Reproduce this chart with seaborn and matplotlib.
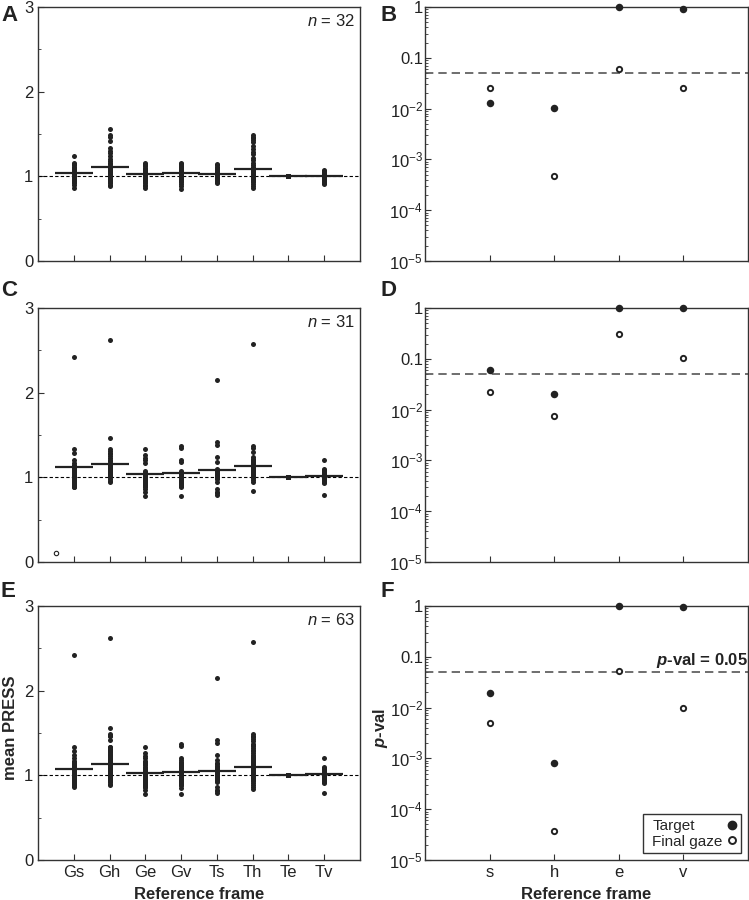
import pandas as pd
import matplotlib.pyplot as plt
import seaborn as sns
from matplotlib.lines import Line2D
from matplotlib.ticker import MultipleLocator, FixedLocator, LogLocator, NullFormatter

sns.set_style('ticks')
plt.rcParams['font.family'] = ['Liberation Sans', 'DejaVu Sans']
plt.rcParams['mathtext.fontset'] = 'custom'
plt.rcParams['mathtext.rm'] = 'Liberation Sans'
plt.rcParams['mathtext.it'] = 'Liberation Sans:italic'
plt.rcParams['mathtext.bf'] = 'Liberation Sans:bold:italic'
plt.rcParams['xtick.direction'] = 'in'
plt.rcParams['ytick.direction'] = 'in'

# ---- mean PRESS par neurone, panneaux A / C (E = A + C) ----
frames = ['Gs', 'Gh', 'Ge', 'Gv', 'Ts', 'Th', 'Te', 'Tv']

press_a = {
    'Gs': [1.24, 1.16, 1.14, 1.13, 1.11, 1.10, 1.09, 1.08, 1.07, 1.06, 1.05, 1.05, 1.04, 1.04, 1.03, 1.03,
           1.02, 1.02, 1.01, 1.01, 1.00, 1.00, 0.99, 0.99, 0.98, 0.97, 0.96, 0.95, 0.93, 0.92, 0.90, 0.86],
    'Gh': [1.56, 1.49, 1.46, 1.42, 1.33, 1.30, 1.27, 1.24, 1.21, 1.18, 1.16, 1.14, 1.12, 1.10, 1.09, 1.07,
           1.06, 1.05, 1.04, 1.03, 1.02, 1.01, 1.00, 0.99, 0.98, 0.97, 0.96, 0.95, 0.93, 0.92, 0.90, 0.88],
    'Ge': [1.16, 1.15, 1.13, 1.12, 1.10, 1.09, 1.08, 1.07, 1.06, 1.05, 1.04, 1.04, 1.03, 1.03, 1.02, 1.02,
           1.01, 1.01, 1.00, 1.00, 0.99, 0.99, 0.98, 0.98, 0.97, 0.96, 0.95, 0.94, 0.92, 0.90, 0.88, 0.86],
    'Gv': [1.16, 1.15, 1.14, 1.12, 1.11, 1.10, 1.09, 1.08, 1.07, 1.06, 1.05, 1.05, 1.04, 1.04, 1.03, 1.03,
           1.02, 1.02, 1.01, 1.01, 1.00, 1.00, 0.99, 0.98, 0.97, 0.96, 0.95, 0.94, 0.93, 0.91, 0.89, 0.85],
    'Ts': [1.14, 1.13, 1.11, 1.10, 1.09, 1.08, 1.07, 1.06, 1.05, 1.05, 1.04, 1.04, 1.03, 1.03, 1.02, 1.02,
           1.02, 1.01, 1.01, 1.00, 1.00, 1.00, 0.99, 0.99, 0.98, 0.98, 0.97, 0.96, 0.95, 0.94, 0.93, 0.92],
    'Th': [1.49, 1.47, 1.45, 1.43, 1.40, 1.36, 1.32, 1.29, 1.26, 1.22, 1.19, 1.16, 1.13, 1.11, 1.09, 1.07,
           1.06, 1.05, 1.04, 1.03, 1.02, 1.01, 1.00, 0.99, 0.98, 0.97, 0.96, 0.94, 0.93, 0.91, 0.89, 0.86],
    'Te': [1.00, 1.00, 1.00, 1.00, 1.00, 1.00, 1.00, 1.00, 1.00, 1.00, 1.00, 1.00, 1.00, 1.00, 1.00, 1.00,
           1.00, 1.00, 1.00, 1.00, 1.00, 1.00, 1.00, 1.00, 1.00, 1.00, 1.00, 1.00, 1.00, 1.00, 1.00, 1.00],
    'Tv': [1.07, 1.06, 1.05, 1.05, 1.04, 1.03, 1.03, 1.02, 1.02, 1.01, 1.01, 1.01, 1.00, 1.00, 1.00, 1.00,
           1.00, 0.99, 0.99, 0.99, 0.98, 0.98, 0.98, 0.97, 0.97, 0.96, 0.96, 0.95, 0.94, 0.93, 0.92, 0.91],
}
press_c = {
    'Gs': [2.42, 1.34, 1.29, 1.20, 1.17, 1.14, 1.12, 1.11, 1.10, 1.09, 1.08, 1.07, 1.06, 1.05, 1.04, 1.03,
           1.02, 1.01, 1.00, 0.99, 0.98, 0.97, 0.96, 0.95, 0.94, 0.93, 0.92, 0.91, 0.90, 0.89, 0.88],
    'Gh': [2.62, 1.47, 1.33, 1.31, 1.29, 1.27, 1.25, 1.23, 1.21, 1.19, 1.17, 1.16, 1.15, 1.14, 1.13, 1.12,
           1.11, 1.10, 1.09, 1.08, 1.07, 1.06, 1.05, 1.04, 1.03, 1.02, 1.01, 1.00, 0.98, 0.96, 0.95],
    'Ge': [1.34, 1.26, 1.23, 1.20, 1.17, 1.07, 1.06, 1.05, 1.04, 1.03, 1.02, 1.02, 1.01, 1.01, 1.00, 1.00,
           0.99, 0.99, 0.98, 0.97, 0.96, 0.95, 0.94, 0.93, 0.92, 0.91, 0.90, 0.88, 0.86, 0.83, 0.78],
    'Gv': [1.37, 1.35, 1.20, 1.18, 1.07, 1.06, 1.05, 1.05, 1.04, 1.04, 1.03, 1.03, 1.02, 1.02, 1.01, 1.01,
           1.00, 1.00, 0.99, 0.99, 0.98, 0.97, 0.96, 0.95, 0.94, 0.93, 0.92, 0.91, 0.90, 0.89, 0.78],
    'Ts': [2.15, 1.42, 1.38, 1.24, 1.18, 1.10, 1.09, 1.08, 1.07, 1.07, 1.06, 1.06, 1.05, 1.05, 1.04, 1.04,
           1.03, 1.03, 1.02, 1.02, 1.01, 1.01, 1.00, 1.00, 0.99, 0.98, 0.95, 0.86, 0.83, 0.81, 0.79],
    'Th': [2.57, 1.37, 1.35, 1.30, 1.24, 1.22, 1.20, 1.19, 1.18, 1.17, 1.16, 1.15, 1.14, 1.13, 1.12, 1.11,
           1.10, 1.09, 1.08, 1.07, 1.06, 1.05, 1.04, 1.03, 1.02, 1.01, 1.00, 0.99, 0.97, 0.95, 0.84],
    'Te': [1.00, 1.00, 1.00, 1.00, 1.00, 1.00, 1.00, 1.00, 1.00, 1.00, 1.00, 1.00, 1.00, 1.00, 1.00, 1.00,
           1.00, 1.00, 1.00, 1.00, 1.00, 1.00, 1.00, 1.00, 1.00, 1.00, 1.00, 1.00, 1.00, 1.00, 1.00],
    'Tv': [1.21, 1.10, 1.09, 1.08, 1.07, 1.06, 1.05, 1.04, 1.04, 1.03, 1.03, 1.02, 1.02, 1.01, 1.01, 1.00,
           1.00, 1.00, 0.99, 0.99, 0.99, 0.98, 0.98, 0.97, 0.97, 0.96, 0.96, 0.95, 0.94, 0.93, 0.79],
}
press_e = {f: press_a[f] + press_c[f] for f in frames}

means_a = [1.035, 1.113, 1.022, 1.035, 1.022, 1.084, 1.003, 1.003]
means_c = [1.117, 1.157, 1.035, 1.054, 1.086, 1.137, 1.000, 1.015]
means_e = [1.078, 1.135, 1.023, 1.035, 1.055, 1.102, 1.000, 1.010]

# point ouvert isolé dans C
c_extra_pos = -0.5
c_extra_val = 0.11

# ---- p-values, panneaux B / D / F ----
frames_short = ['s', 'h', 'e', 'v']
p_target_b = [0.0127, 0.0104, 1.0, 0.91]
p_final_b = [0.0258, 4.7e-4, 0.060, 0.025]
p_target_d = [0.061, 0.0199, 1.0, 1.0]
p_final_d = [0.0224, 0.0075, 0.307, 0.105]
p_target_f = [0.019, 8.3e-4, 1.0, 0.95]
p_final_f = [0.005, 3.8e-5, 0.052, 0.010]
p_threshold = 0.05

INK = '#222222'


def to_long(values):
    rows = [(f, v) for f in frames for v in values[f]]
    return pd.DataFrame(rows, columns=['frame', 'value'])


def style_spines(ax):
    for s in ax.spines.values():
        s.set_color('#333333')
        s.set_linewidth(1.0)
    ax.tick_params(which='both', colors='#333333', labelcolor=INK, labelsize=12)
    ax.tick_params(which='major', length=4, width=0.8)
    ax.tick_params(which='minor', length=2.5, width=0.6)
    ax.tick_params(axis='x', which='minor', bottom=False)


def draw_press(ax, values, means, n, bottom):
    ax.axhline(1, color='black', lw=0.8, ls=(0, (3, 2)), zorder=1)
    sns.stripplot(data=to_long(values), x='frame', y='value', order=frames, jitter=False,
                  color=INK, size=3.6, linewidth=0, ax=ax, zorder=3)
    for i, m in enumerate(means):
        ax.hlines(m, i - 0.53, i + 0.53, color=INK, lw=1.6, zorder=4)
    ax.set_xlim(-1, len(frames))
    ax.set_ylim(0, 3)
    ax.yaxis.set_major_locator(MultipleLocator(1))
    ax.yaxis.set_minor_locator(MultipleLocator(0.5))
    ax.text(0.985, 0.975, f'$\\mathit{{n}}$ = {n}', transform=ax.transAxes,
            ha='right', va='top', fontsize=12, color=INK)
    style_spines(ax)
    if bottom:
        ax.set_xlabel('Reference frame', fontsize=12, fontweight='bold', labelpad=5)
        ax.set_ylabel('mean PRESS', fontsize=12, fontweight='bold')
        ax.yaxis.set_label_coords(-0.062, 0.52)
    else:
        ax.set_xticklabels([])
        ax.set_xlabel('')
        ax.set_ylabel('')


def draw_pval(ax, target, final, bottom):
    ax.axhline(p_threshold, color='#555555', lw=1.2, ls=(0, (5, 3)), zorder=1)
    df_t = pd.DataFrame({'frame': frames_short, 'p': target})
    df_f = pd.DataFrame({'frame': frames_short, 'p': final})
    sns.stripplot(data=df_t, x='frame', y='p', order=frames_short, jitter=False,
                  color=INK, size=5.4, linewidth=0, ax=ax, zorder=3)
    sns.stripplot(data=df_f, x='frame', y='p', order=frames_short, jitter=False,
                  color='white', edgecolor=INK, linewidth=1.4, size=3.8, ax=ax, zorder=3)
    for c in ax.collections:
        c.set_clip_on(False)
    ax.set_yscale('log')
    ax.set_ylim(1e-5, 1)
    ax.set_xlim(-1, len(frames_short))
    ax.yaxis.set_major_locator(FixedLocator([1e-5, 1e-4, 1e-3, 1e-2, 0.1, 1]))
    ax.set_yticklabels(['$10^{-5}$', '$10^{-4}$', '$10^{-3}$', '$10^{-2}$', '0.1', '1'])
    ax.yaxis.set_minor_locator(LogLocator(base=10, subs=range(2, 10)))
    ax.yaxis.set_minor_formatter(NullFormatter())
    style_spines(ax)
    ax.tick_params(axis='y', which='major', pad=1.5)
    if bottom:
        ax.set_xlabel('Reference frame', fontsize=12, fontweight='bold', labelpad=5)
        ax.set_ylabel('$\\mathbf{p}$-val', fontsize=12, fontweight='bold')
        ax.yaxis.set_label_coords(-0.107, 0.52)
        ax.text(1.0, p_threshold * 1.12, '$\\mathbf{p}$-val = 0.05', transform=ax.get_yaxis_transform(),
                ha='right', va='bottom', fontsize=12, fontweight='bold', color=INK)
        blank = Line2D([], [], ls='none', marker='')
        handles = [
            blank, blank,
            Line2D([], [], ls='none', marker='o', color=INK, markersize=6),
            Line2D([], [], ls='none', marker='o', mfc='white', mec=INK, mew=1.4, markersize=5),
        ]
        leg = ax.legend(handles, ['Target', 'Final gaze', '', ''], ncols=2, loc='lower right',
                        fontsize=11, frameon=True, fancybox=False, framealpha=1,
                        edgecolor='#333333', borderpad=0.3, labelspacing=0.1,
                        handlelength=0.0, handletextpad=0.3, columnspacing=0.6,
                        borderaxespad=0.45)
        leg.get_frame().set_linewidth(1.0)
    else:
        ax.set_xticklabels([])
        ax.set_xlabel('')
        ax.set_ylabel('')


fig = plt.figure(figsize=(7.49, 9.0), dpi=100)
W, H = 749, 900
left_x, right_x = 38, 425
widths = (322, 323)
tops = [7, 308, 606]
ax_h = 254

press_sets = [(press_a, means_a, 32), (press_c, means_c, 31), (press_e, means_e, 63)]
p_sets = [(p_target_b, p_final_b), (p_target_d, p_final_d), (p_target_f, p_final_f)]
letters = [('A', 'B'), ('C', 'D'), ('E', 'F')]
letter_tops = [5, 280, 581]

for row in range(3):
    bottom_px = tops[row] + ax_h
    axl = fig.add_axes([left_x / W, 1 - bottom_px / H, widths[0] / W, ax_h / H])
    axr = fig.add_axes([right_x / W, 1 - bottom_px / H, widths[1] / W, ax_h / H])
    vals, means, n = press_sets[row]
    draw_press(axl, vals, means, n, bottom=(row == 2))
    if row == 1:
        axl.scatter([c_extra_pos], [c_extra_val], s=10, facecolor='white', edgecolor=INK,
                    linewidth=0.8, zorder=4)
    draw_pval(axr, *p_sets[row], bottom=(row == 2))
    fig.text(1 / W, 1 - letter_tops[row] / H, letters[row][0], fontsize=16, fontweight='bold',
             ha='left', va='top', color=INK)
    fig.text(381 / W, 1 - letter_tops[row] / H, letters[row][1], fontsize=16, fontweight='bold',
             ha='left', va='top', color=INK)

fig.savefig('out.png', dpi=100)
